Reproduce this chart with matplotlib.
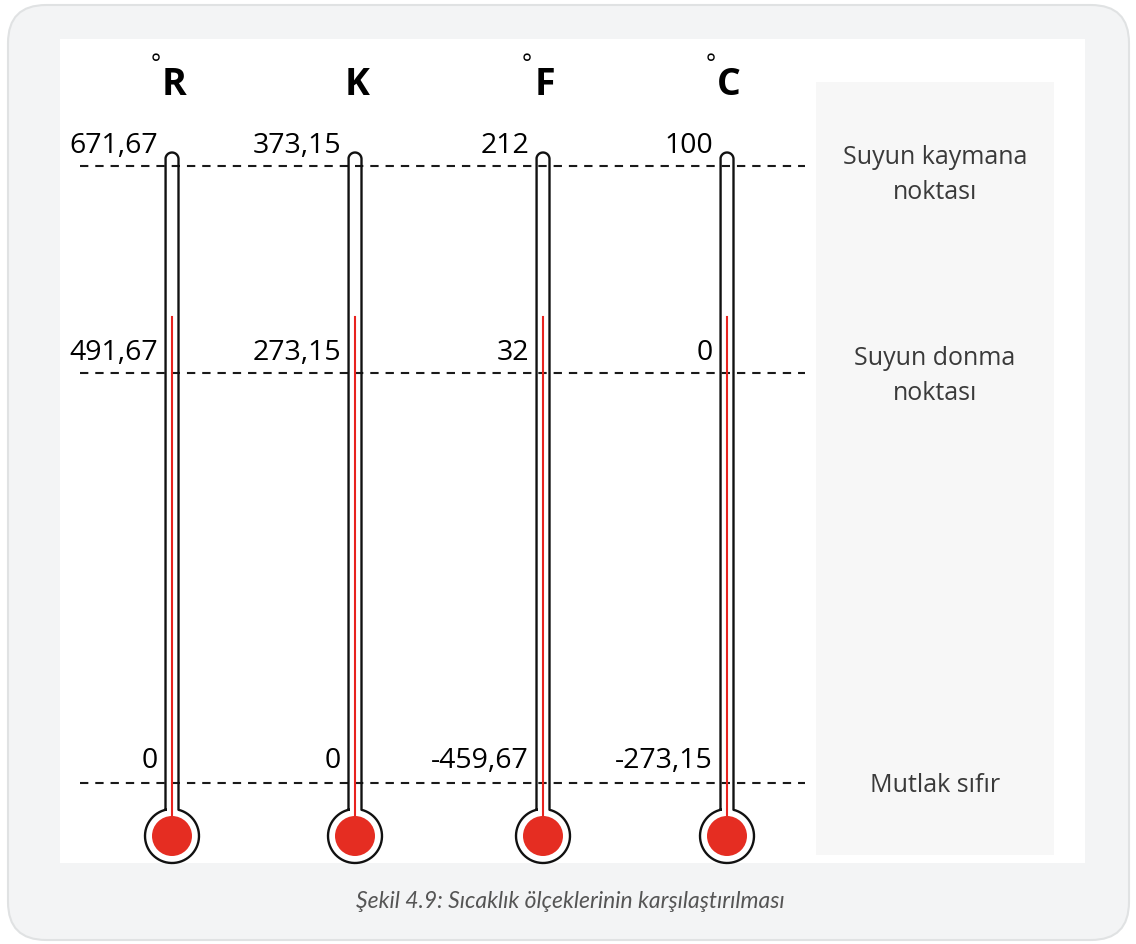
import numpy as np
import matplotlib.pyplot as plt
from matplotlib.patches import FancyBboxPatch, Rectangle, Circle

plt.rcParams['lines.scale_dashes'] = False

# data
scales = ["R", "K", "F", "C"]
has_degree = [True, False, True, True]
boiling = [671.67, 373.15, 212, 100]
freezing = [491.67, 273.15, 32, 0]
absolute_zero = [0, 0, -459.67, -273.15]
point_names = ["Suyun kaymana\nnoktası", "Suyun donma\nnoktası", "Mutlak sıfır"]
caption = "Şekil 4.9: Sıcaklık ölçeklerinin karşılaştırılması"

# layout (pixel units of the figure)
W, H = 1136, 945
xs = [172, 355, 543, 727]
level_y = [167, 374, 784]
label_y = [153, 360, 768]
name_y = [175, 376, 785]
tube_top = 160
tube_hw = 6.5
bulb_y = 837
bulb_r = 27
red_top = 318

def fmt(v):
    return f"{v:g}".replace(".", ",")

fig = plt.figure(figsize=(W / 100, H / 100), dpi=100)
ax = fig.add_axes([0, 0, 1, 1])
ax.set_xlim(0, W)
ax.set_ylim(H, 0)
ax.axis("off")

# frame and panels
ax.add_patch(FancyBboxPatch((8, 6), 1121, 935, boxstyle="round,pad=0,rounding_size=38",
                            fc="#f3f4f5", ec="#e0e2e3", lw=1.5, zorder=0))
ax.add_patch(Rectangle((60, 40), 1025, 824, fc="white", ec="none", zorder=0.5))
ax.add_patch(Rectangle((816, 83), 238, 773, fc="#f7f7f7", ec="none", zorder=0.6))

# dashed reference lines
for y in level_y:
    ax.plot([80, 805], [y, y], color="#1a1a1a", lw=1.5, ls=(0, (6, 5)), zorder=3)

# thermometers
joint = np.degrees(np.arctan2(-np.sqrt(bulb_r**2 - tube_hw**2), tube_hw))
joint_y = bulb_y - np.sqrt(bulb_r**2 - tube_hw**2)
for cx in xs:
    t_cap = np.radians(np.linspace(180, 360, 40))
    t_bulb = np.radians(np.linspace(joint, 180 - joint, 120))
    cap_x = cx + tube_hw * np.cos(t_cap)
    cap_y = tube_top + tube_hw * np.sin(t_cap)
    bx = cx + bulb_r * np.cos(t_bulb)
    by = bulb_y + bulb_r * np.sin(t_bulb)
    px = np.concatenate([[cx - tube_hw], cap_x, [cx + tube_hw], bx, [cx - tube_hw]])
    py = np.concatenate([[joint_y], cap_y, [joint_y], by, [joint_y]])
    ax.fill(px, py, color="white", zorder=2)
    ax.plot(px, py, color="#111111", lw=1.7, zorder=4, solid_joinstyle="round")
    ax.plot([cx, cx], [red_top, bulb_y], color="#e8231f", lw=1.5, zorder=5)
    ax.add_patch(Circle((cx, bulb_y), 20, fc="#e52d22", ec="none", zorder=5))

# headers
for cx, s, deg in zip(xs, scales, has_degree):
    ax.text(cx + 2, 95, s, ha="center", va="baseline", fontsize=27,
            fontweight="bold", family="Open Sans", color="black", zorder=6)
    if deg:
        ax.text(cx - 16, 53, "°", ha="center", va="top", fontsize=17,
                family="Open Sans", color="black", zorder=6)

# values
for vals, ly in zip([boiling, freezing, absolute_zero], label_y):
    for cx, v in zip(xs, vals):
        ax.text(cx - 14, ly, fmt(v), ha="right", va="baseline", fontsize=20.5,
                family="Open Sans", color="black", zorder=6)

# point names
for name, y in zip(point_names, name_y):
    ax.text(935, y, name, ha="center", va="center", fontsize=18,
            family="Open Sans", color="#3a3a3a", linespacing=1.55, zorder=6)

ax.text(570, 901, caption, ha="center", va="center", fontsize=16.5,
        family="Lato", style="italic", color="#555555", zorder=6)

fig.savefig("out.png", dpi=100)
